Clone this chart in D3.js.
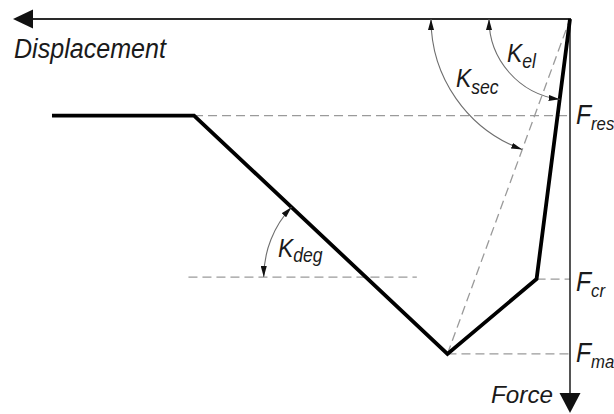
<!DOCTYPE html>
<html>
<head>
<meta charset="utf-8">
<script src="https://cdn.jsdelivr.net/npm/d3@7/dist/d3.min.js"></script>
<style>
body { margin: 0; background: #fff; }
text {
    font-family: "Liberation Sans", Arial, sans-serif;
    font-style: italic;
    fill: #1a1a1a;
}
</style>
</head>
<body>
<script>
// backbone curve: displacement grows to the left, force grows downwards
var dispPts  = [0, 6, 22, 67.5, 93];
var forcePts = [0, 66, 85, 24.5, 24.5];

// force levels marked on the force axis
var levelNames  = ["res", "cr", "max"];
var levelForces = [24.5, 66, 85];
var levelDisps  = [67.5, 6, 22];

// horizontal reference for the degrading stiffness
var degForce = 65.5;
var degDisps = [68.5, 27.5];

var axisMax = 100;

var svg = d3.select("body")
    .append("svg")
    .attr("width", 614)
    .attr("height", 414);

var x = d3.scaleLinear().domain([0, axisMax]).range([570, 13]);
var y = d3.scaleLinear().domain([0, axisMax]).range([19, 413]);

// arrow head used on the stiffness arcs
svg.append("defs").append("marker")
    .attr("id", "tip")
    .attr("markerUnits", "userSpaceOnUse")
    .attr("markerWidth", 11)
    .attr("markerHeight", 6)
    .attr("refX", 11)
    .attr("refY", 3)
    .attr("orient", "auto-start-reverse")
    .append("path")
    .attr("d", "M0,0 L11,3 L0,6 Z")
    .attr("fill", "#111");

var dashed = "9,5";

// dashed force levels, from the curve to the axis
svg.selectAll(".level")
    .data(levelForces)
    .enter()
    .append("line")
    .attr("class", "level")
    .attr("x1", function(d, i) { return x(levelDisps[i]); })
    .attr("x2", x(0))
    .attr("y1", function(d) { return y(d); })
    .attr("y2", function(d) { return y(d); })
    .attr("stroke", "#9a9a9a")
    .attr("stroke-width", 1.3)
    .attr("stroke-dasharray", dashed);

// K_deg reference line
svg.append("line")
    .attr("x1", x(degDisps[0]))
    .attr("x2", x(degDisps[1]))
    .attr("y1", y(degForce))
    .attr("y2", y(degForce))
    .attr("stroke", "#9a9a9a")
    .attr("stroke-width", 1.3)
    .attr("stroke-dasharray", dashed);

// secant line origin -> peak
svg.append("line")
    .attr("x1", x(dispPts[2]))
    .attr("y1", y(forcePts[2]))
    .attr("x2", x(0))
    .attr("y2", y(0))
    .attr("stroke", "#9a9a9a")
    .attr("stroke-width", 1.3)
    .attr("stroke-dasharray", dashed);

// axes
svg.append("line")
    .attr("x1", x(0) + 1)
    .attr("x2", x(axisMax) + 18)
    .attr("y1", y(0))
    .attr("y2", y(0))
    .attr("stroke", "#2a2a2a")
    .attr("stroke-width", 2.2);
svg.append("path")
    .attr("d", "M" + x(axisMax) + "," + y(0) +
        "L" + (x(axisMax) + 20) + "," + (y(0) - 9.5) +
        "L" + (x(axisMax) + 20) + "," + (y(0) + 9.5) + "Z")
    .attr("fill", "#111");

svg.append("line")
    .attr("x1", x(0))
    .attr("x2", x(0))
    .attr("y1", y(0))
    .attr("y2", y(axisMax) - 18)
    .attr("stroke", "#2a2a2a")
    .attr("stroke-width", 1.6);
svg.append("path")
    .attr("d", "M" + x(0) + "," + y(axisMax) +
        "L" + (x(0) - 10.5) + "," + (y(axisMax) - 20) +
        "L" + (x(0) + 10.5) + "," + (y(axisMax) - 20) + "Z")
    .attr("fill", "#111");

// backbone curve
var line = d3.line()
    .x(function(d) { return x(d[0]); })
    .y(function(d) { return y(d[1]); });

svg.append("path")
    .datum(d3.zip(dispPts, forcePts))
    .attr("d", line)
    .attr("fill", "none")
    .attr("stroke", "#000")
    .attr("stroke-width", 3.8)
    .attr("stroke-linejoin", "miter");

// stiffness arcs
function arcPath(cx, cy, r, a0, a1, ccw)
{
    var p = d3.path();
    p.arc(cx, cy, r, a0, a1, ccw);
    return p.toString();
}

function drawArc(d)
{
    svg.append("path")
        .attr("d", d)
        .attr("fill", "none")
        .attr("stroke", "#6e6e6e")
        .attr("stroke-width", 1.1)
        .attr("marker-start", "url(#tip)")
        .attr("marker-end", "url(#tip)");
}

var ox = x(0), oy = y(0);
var elAngle  = Math.atan2(y(forcePts[1]) - oy, x(dispPts[1]) - ox);
var secAngle = Math.atan2(y(forcePts[2]) - oy, x(dispPts[2]) - ox);
drawArc(arcPath(ox, oy, 81, Math.PI, elAngle, true));
drawArc(arcPath(ox, oy, 139, Math.PI, secAngle, true));

// K_deg arc centred where the softening branch crosses the reference
var t = (forcePts[2] - degForce) / (forcePts[2] - forcePts[3]);
var cdx = x(dispPts[2] + t * (dispPts[3] - dispPts[2]));
var cdy = y(degForce);
var degAngle = Math.atan2(y(forcePts[3]) - cdy, x(dispPts[3]) - cdx) +
    2 * Math.PI;
drawArc(arcPath(cdx, cdy, 102, Math.PI, degAngle, false));

// labels with subscripts, slightly condensed like the original lettering
function label(tx, ty, main, sub, size, subSize, subDy)
{
    var txt = svg.append("g")
        .attr("transform", "translate(" + tx + "," + ty + ") scale(0.88,1)")
        .append("text")
        .style("font-size", size + "px");
    txt.append("tspan").text(main);
    txt.append("tspan")
        .attr("dy", subDy)
        .style("font-size", subSize + "px")
        .text(sub);
}

label(507, 62, "K", "el", 26, 20, 6);
label(456, 87, "K", "sec", 26, 20, 7);
label(278, 257, "K", "deg", 26, 20, 5);

var levelDy = [8, 12, 8];
levelNames.forEach(function(n, i) {
    label(x(0) + 6, y(levelForces[i]) + levelDy[i], "F", n, 28, 19, 6);
});

svg.append("text")
    .attr("x", 14)
    .attr("y", 58)
    .attr("textLength", 152)
    .attr("lengthAdjust", "spacingAndGlyphs")
    .style("font-size", "27px")
    .text("Displacement");

svg.append("text")
    .attr("x", 491)
    .attr("y", 403)
    .attr("textLength", 62)
    .attr("lengthAdjust", "spacingAndGlyphs")
    .style("font-size", "23px")
    .text("Force");
</script>
</body>
</html>
